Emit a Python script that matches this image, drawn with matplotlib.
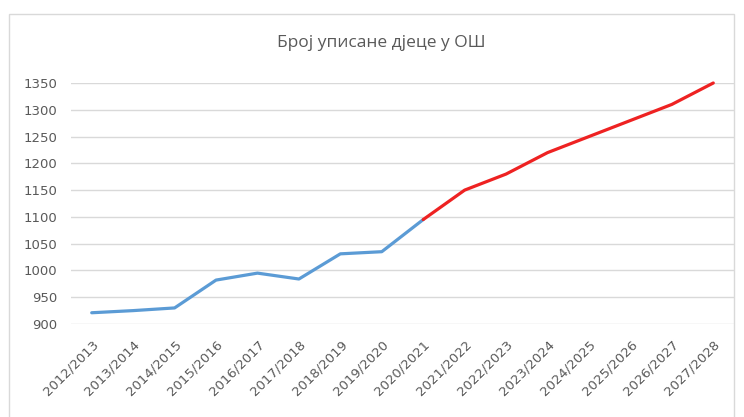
import matplotlib
matplotlib.use("Agg")
import matplotlib.pyplot as plt
from matplotlib.patches import Rectangle

# Data
years = ["2012/2013", "2013/2014", "2014/2015", "2015/2016", "2016/2017",
         "2017/2018", "2018/2019", "2019/2020", "2020/2021", "2021/2022",
         "2022/2023", "2023/2024", "2024/2025", "2025/2026", "2026/2027",
         "2027/2028"]
pupils = [921, 925, 930, 982, 995, 984, 1031, 1035, 1095, 1150,
          1180, 1220, 1250, 1280, 1310, 1350]
split_idx = 8  # actual data up to 2020/2021, projection after

yticks = list(range(900, 1351, 50))

W, H = 744, 417
fig = plt.figure(figsize=(W / 100, H / 100), dpi=100)
fig.patch.set_facecolor("white")

# chart area frame
fig.patches.append(Rectangle((9 / W, -0.1), (734 - 9) / W, 1.1 - 14 / H,
                             transform=fig.transFigure, fill=False,
                             edgecolor="#D9D9D9", linewidth=1.0))

ax = fig.add_axes([71 / W, 1 - 324 / H, (734 - 71) / W, (324 - 83) / H])

x = list(range(len(years)))
ax.plot(x[:split_idx + 1], pupils[:split_idx + 1], color="#5B9BD5",
        linewidth=2.3, solid_capstyle="round", solid_joinstyle="round",
        zorder=3, clip_on=False)
ax.plot(x[split_idx:], pupils[split_idx:], color="#EE2222",
        linewidth=2.3, solid_capstyle="round", solid_joinstyle="round",
        zorder=3, clip_on=False)

ax.set_xlim(-0.5, len(years) - 0.5)
ax.set_ylim(900, 1350)
ax.set_yticks(yticks)
ax.set_xticks(x)
ax.set_xticklabels(years, rotation=45, ha="right", rotation_mode="anchor")
ax.grid(axis="y", color="#D9D9D9", linewidth=1.0)
ax.set_axisbelow(True)
for s in ax.spines.values():
    s.set_visible(False)
ax.tick_params(axis="both", length=0, colors="#595959", labelsize=9.5)
ax.tick_params(axis="y", pad=10)
ax.tick_params(axis="x", pad=10)

fig.text(381 / W, 1 - 43 / H, "Број уписане дјеце у ОШ", ha="center",
         va="center", fontsize=12.5, color="#595959", family="Open Sans")

fig.savefig("out.png", dpi=100)
